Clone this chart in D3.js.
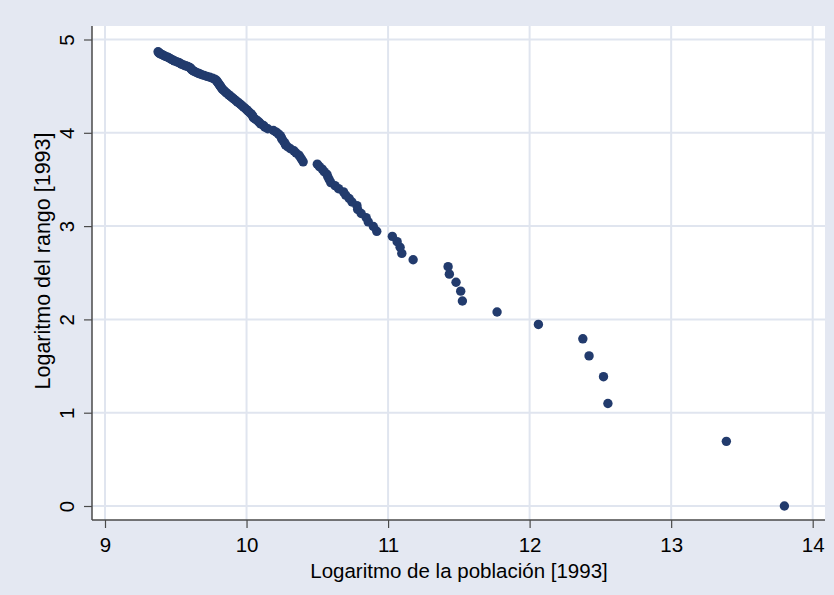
<!DOCTYPE html>
<html>
<head>
<meta charset="utf-8">
<script src="https://cdn.jsdelivr.net/npm/d3@7"></script>
<style>
  html, body { margin: 0; padding: 0; background: #e4e8f2; }
  svg { display: block; }
  text { font-family: "Liberation Sans", Arial, sans-serif; fill: #000; }
</style>
</head>
<body>
<svg id="chart" width="834" height="595"></svg>
<script>
// Log of population [1993] for each city (x), ordered by rank 1..130
const logPopulation = [
  13.80, 13.39, 12.553, 12.522, 12.42, 12.376, 12.062, 11.77, 11.525, 11.513,
  11.48, 11.433, 11.424, 11.177, 11.097, 11.085, 11.064, 11.030, 10.920, 10.896,
  10.860, 10.845, 10.810, 10.785, 10.780, 10.745, 10.725, 10.700, 10.685, 10.650,
  10.625, 10.595, 10.585, 10.575, 10.568, 10.548, 10.535, 10.515, 10.500, 10.400,
  10.390, 10.380, 10.370, 10.350, 10.335, 10.310, 10.290, 10.275, 10.270, 10.260,
  10.250, 10.245, 10.238, 10.225, 10.210, 10.190, 10.150, 10.130, 10.120, 10.100,
  10.090, 10.080, 10.065, 10.050, 10.045, 10.040, 10.030, 10.020, 10.010, 10.000,
  9.990, 9.978, 9.968, 9.958, 9.948, 9.935, 9.925, 9.915, 9.905, 9.895,
  9.885, 9.875, 9.865, 9.855, 9.847, 9.840, 9.830, 9.825, 9.820, 9.815,
  9.810, 9.805, 9.800, 9.795, 9.790, 9.785, 9.775, 9.760, 9.740, 9.720,
  9.700, 9.680, 9.665, 9.650, 9.635, 9.625, 9.615, 9.610, 9.605, 9.600,
  9.585, 9.570, 9.555, 9.540, 9.530, 9.520, 9.505, 9.490, 9.482, 9.470,
  9.460, 9.450, 9.440, 9.425, 9.415, 9.405, 9.395, 9.385, 9.380, 9.375
];
// Log of rank [1993] (y)
const logRank = [
  0, 0.693, 1.099, 1.386, 1.609, 1.792, 1.946, 2.079, 2.197, 2.303,
  2.398, 2.485, 2.565, 2.639, 2.708, 2.773, 2.833, 2.890, 2.944, 2.996,
  3.045, 3.091, 3.135, 3.178, 3.219, 3.258, 3.296, 3.332, 3.367, 3.401,
  3.434, 3.466, 3.497, 3.526, 3.555, 3.584, 3.611, 3.638, 3.664, 3.689,
  3.714, 3.738, 3.761, 3.784, 3.807, 3.829, 3.850, 3.871, 3.892, 3.912,
  3.932, 3.951, 3.970, 3.989, 4.007, 4.025, 4.043, 4.060, 4.078, 4.094,
  4.111, 4.127, 4.143, 4.159, 4.174, 4.190, 4.205, 4.220, 4.234, 4.248,
  4.263, 4.277, 4.290, 4.304, 4.317, 4.331, 4.344, 4.357, 4.369, 4.382,
  4.394, 4.407, 4.419, 4.431, 4.443, 4.454, 4.466, 4.477, 4.489, 4.500,
  4.511, 4.522, 4.533, 4.543, 4.554, 4.564, 4.575, 4.585, 4.595, 4.605,
  4.615, 4.625, 4.635, 4.644, 4.654, 4.663, 4.673, 4.682, 4.691, 4.700,
  4.710, 4.718, 4.727, 4.736, 4.745, 4.754, 4.762, 4.771, 4.779, 4.787,
  4.796, 4.804, 4.812, 4.820, 4.828, 4.836, 4.844, 4.852, 4.860, 4.868
];
const xTicks = [9, 10, 11, 12, 13, 14];
const yTicks = [0, 1, 2, 3, 4, 5];
const xTitle = "Logaritmo de la población [1993]";
const yTitle = "Logaritmo del rango [1993]";

const svg = d3.select("#chart");
const W = 834, H = 595;
const plot = { left: 92, right: 825, top: 26, bottom: 520 };
const fontFam = "'Liberation Sans', Arial, sans-serif";

svg.append("rect").attr("width", W).attr("height", H).attr("fill", "#e4e8f2");
svg.append("rect")
  .attr("x", plot.left).attr("y", plot.top)
  .attr("width", plot.right - plot.left).attr("height", plot.bottom - plot.top)
  .attr("fill", "#ffffff");

const x = d3.scaleLinear().domain([9, 14]).range([105, 812.7]);
const y = d3.scaleLinear().domain([0, 5]).range([506, 39.5]);

const gridColor = "#e0e5ef";
// gridlines
svg.append("g").selectAll("line").data(xTicks).join("line")
  .attr("x1", d => x(d)).attr("x2", d => x(d))
  .attr("y1", plot.top).attr("y2", plot.bottom)
  .attr("stroke", gridColor).attr("stroke-width", 2);
svg.append("g").selectAll("line").data(yTicks).join("line")
  .attr("x1", plot.left).attr("x2", plot.right)
  .attr("y1", d => y(d)).attr("y2", d => y(d))
  .attr("stroke", gridColor).attr("stroke-width", 2);

// points
const data = logPopulation.map((v, i) => ({ x: v, y: logRank[i] }));
svg.append("g").selectAll("circle").data(data).join("circle")
  .attr("cx", d => x(d.x)).attr("cy", d => y(d.y))
  .attr("r", 4.7)
  .attr("fill", "#223b6d");

// axes
const axisColor = "#4a4a4a";
const xAxis = svg.append("g").attr("transform", `translate(0,${plot.bottom})`)
  .call(d3.axisBottom(x).tickValues(xTicks).tickSize(8).tickSizeOuter(0).tickPadding(9).tickFormat(d3.format("d")));
xAxis.select(".domain").remove();
xAxis.append("line").attr("x1", plot.left).attr("x2", plot.right)
  .attr("stroke", axisColor).attr("stroke-width", 1.5);
xAxis.selectAll(".tick line").attr("stroke", axisColor).attr("stroke-width", 1.2);
xAxis.selectAll(".tick text")
  .attr("font-size", 20.5).attr("fill", "#000")
  .attr("font-family", fontFam);

const yAxis = svg.append("g").attr("transform", `translate(${plot.left},0)`)
  .call(d3.axisLeft(y).tickValues(yTicks).tickSize(8).tickSizeOuter(0).tickFormat(d3.format("d")));
yAxis.select(".domain").remove();
yAxis.append("line").attr("y1", plot.top).attr("y2", plot.bottom)
  .attr("stroke", axisColor).attr("stroke-width", 1.5);
yAxis.selectAll(".tick line").attr("stroke", axisColor).attr("stroke-width", 1.2);
yAxis.selectAll(".tick text")
  .attr("x", null).attr("dy", null)
  .attr("text-anchor", "middle")
  .attr("transform", "translate(-18,0) rotate(-90)")
  .attr("font-size", 20.5).attr("fill", "#000")
  .attr("font-family", fontFam);

// titles
svg.append("text")
  .attr("x", 459).attr("y", 578)
  .attr("text-anchor", "middle")
  .attr("font-size", 20.5)
  .text(xTitle);
svg.append("text")
  .attr("transform", "translate(50,261) rotate(-90)")
  .attr("text-anchor", "middle")
  .attr("font-size", 21.5)
  .text(yTitle);
</script>
</body>
</html>
